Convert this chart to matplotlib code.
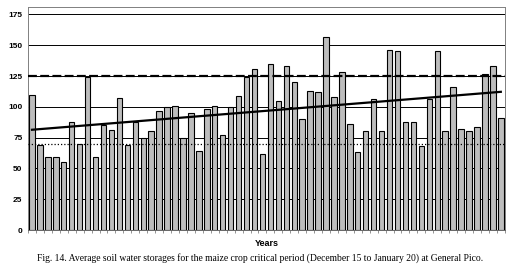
import numpy as np
import matplotlib.pyplot as plt

# average soil water storage (mm), one bar per year
storage = [110, 69, 59, 59, 55, 88, 70, 124, 59, 85,
           81, 107, 69, 88, 75, 80, 97, 100, 101, 75,
           95, 64, 98, 101, 77, 100, 109, 124, 131, 62,
           135, 105, 133, 120, 90, 113, 112, 157, 108, 128,
           86, 63, 80, 106, 80, 146, 145, 88, 88, 68,
           106, 145, 80, 116, 82, 80, 84, 127, 133, 91]
upper_ref = 125
lower_ref = 70
yticks = [0, 25, 50, 75, 100, 125, 150, 175]
caption = ("Fig. 14. Average soil water storages for the maize crop critical period "
           "(December 15 to January 20) at General Pico.")

x = np.arange(len(storage))
coef = np.polyfit(x, storage, 1)
trend = np.polyval(coef, x)

fig = plt.figure(figsize=(5.13, 2.70), dpi=100)
ax = fig.add_axes([0.0546, 0.148, 0.9294, 0.826])

ax.bar(x, storage, width=0.68, color='#bdbdbd', edgecolor='black',
       linewidth=0.8, zorder=2)
ax.axhline(upper_ref, color='black', lw=1.6, dashes=(4, 1.5), zorder=3)
ax.axhline(lower_ref, color='black', lw=0.9, linestyle=(0, (1, 1.6)), zorder=3)
ax.plot(x, trend, color='black', lw=1.6, zorder=4)

for y in yticks[1:]:
    ax.axhline(y, color='black', lw=0.7, zorder=1)

ax.set_xlim(-0.5, len(storage) - 0.5)
ax.set_ylim(0, 181)
ax.set_yticks(yticks)
ax.set_yticklabels([str(t) for t in yticks], fontsize=6, fontweight='bold',
                   family='Liberation Sans')
ax.tick_params(axis='y', length=0, pad=4)
ax.set_xticks(np.arange(len(storage) + 1) - 0.5)
ax.set_xticklabels([])
ax.tick_params(axis='x', length=2.5, width=0.5, color='#666666')

for side in ['top', 'right', 'left']:
    ax.spines[side].set_color('#808080')
    ax.spines[side].set_linewidth(0.7)
ax.spines['bottom'].set_color('#666666')
ax.spines['bottom'].set_linewidth(0.7)

fig.text(0.521, 0.098, 'Years', ha='center', va='center', fontsize=6.5,
         fontweight='bold', family='Liberation Sans')
fig.text(0.506, 0.045, caption, ha='center', va='center', fontsize=6.9,
         family='Liberation Serif')

fig.savefig('out.png', dpi=100)
